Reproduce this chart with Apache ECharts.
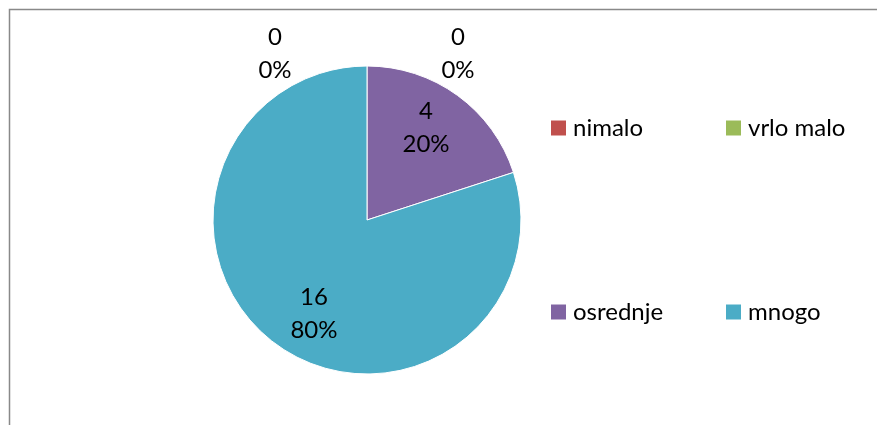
<!DOCTYPE html>
<html>
<head>
<meta charset="utf-8">
<script src="https://cdn.jsdelivr.net/npm/echarts@6/dist/echarts.min.js"></script>
<style>
  html, body { margin: 0; padding: 0; background: #fff; }
  #chart { width: 877px; height: 425px; }
</style>
</head>
<body>
<div id="chart"></div>
<script>
// podaci
const categories = ['nimalo', 'vrlo malo', 'osrednje', 'mnogo'];
const values = [0, 0, 4, 16];
const colors = ['#C0504D', '#9BBB59', '#8064A2', '#4BACC6'];
// pomak oznaka (Excel ih crta dalje od centra)
const labelOffsets = [[-92, -86], [91, -86], [12, -28], [-6, 29]];

const chart = echarts.init(document.getElementById('chart'));
const font = 'Lato, "Open Sans", sans-serif';

const legendPos = [[551, 116], [726, 116], [551, 300], [726, 300]];
const legends = categories.map((name, i) => ({
  data: [name],
  left: legendPos[i][0],
  top: legendPos[i][1],
  padding: 0,
  icon: 'rect',
  itemWidth: 15,
  itemHeight: 15,
  itemStyle: { borderWidth: 0 },
  selectedMode: false,
  textStyle: { color: '#000', fontSize: 24, fontFamily: font, padding: [0, 0, 0, 2] }
}));

chart.setOption({
  animation: false,
  graphic: [{
    type: 'rect',
    shape: { x: 9.5, y: 9.5, width: 900, height: 500 },
    style: { fill: 'none', stroke: '#898989', lineWidth: 1.5 }
  }],
  legend: legends,
  series: [{
    type: 'pie',
    center: [367, 220],
    radius: 154,
    startAngle: 90,
    clockwise: true,
    avoidLabelOverlap: false,
    itemStyle: { borderColor: '#fff', borderWidth: 1 },
    labelLine: { show: false },
    label: {
      show: true,
      position: 'inside',
      color: '#000',
      fontSize: 24,
      fontFamily: font,
      lineHeight: 33,
      formatter: p => p.value + '\n' + Math.round(p.percent) + '%'
    },
    data: categories.map((name, i) => ({
      name: name,
      value: values[i],
      itemStyle: { color: colors[i] },
      label: { offset: labelOffsets[i] }
    }))
  }]
});
</script>
</body>
</html>
